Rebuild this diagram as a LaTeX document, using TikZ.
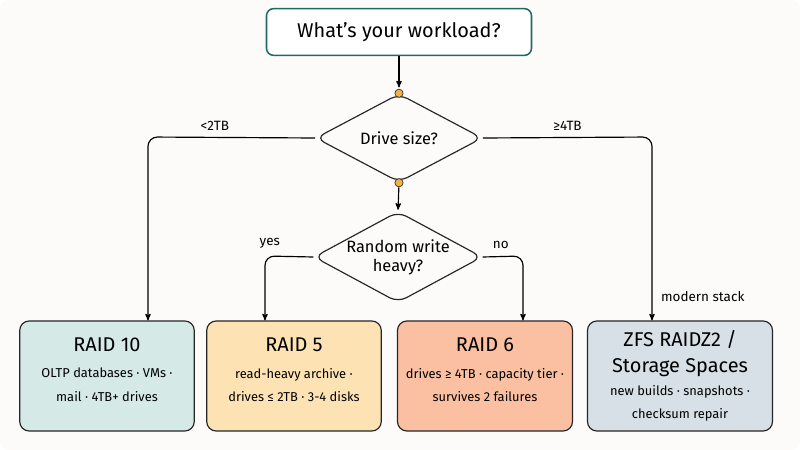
\documentclass[tikz,border=0pt]{standalone}
\usepackage{fontspec}
\setmainfont{Fira Sans}
\usetikzlibrary{arrows,shapes.geometric,positioning}
\definecolor{bg}{HTML}{FDFBFA}
\definecolor{teal}{HTML}{1F6B63}
\definecolor{dot}{HTML}{F2B441}
\definecolor{c10}{HTML}{D5EAE7}
\definecolor{c5}{HTML}{FDE3B4}
\definecolor{c6}{HTML}{FBC0A1}
\definecolor{cz}{HTML}{D6E0E6}
\tikzset{
  box/.style={draw=black!85,line width=1pt,rounded corners=8pt,minimum width=5.1cm,minimum height=3.3cm,align=center},
  decision/.style={draw=black!85,line width=1pt,diamond,aspect=1.85,minimum width=5cm,minimum height=2.65cm,inner sep=0pt,align=center,font=\fontsize{14}{16}\selectfont},
  lbl/.style={font=\fontsize{11.5}{13}\selectfont},
  dot/.style={circle,fill=dot,draw=black!80,line width=0.6pt,inner sep=0pt,minimum size=7pt}
}
\newcommand{\raidtitle}[2][13pt]{\parbox{5cm}{\centering\fontsize{17}{22}\selectfont #2}\\[#1]}
\newcommand{\raidbody}[3][11pt]{\parbox{#2}{\centering\fontsize{11}{20}\selectfont #3\rule[-#1]{0pt}{#1}}}
\begin{document}
\begin{tikzpicture}[x=0.03cm,y=-0.03cm,>=stealth',line width=1pt,rounded corners=8pt]
  \fill[bg] (0,0) rectangle (800,450);
  \useasboundingbox (0,0) rectangle (800,450);

  \node[draw=teal,line width=1.3pt,rounded corners=6pt,fill=white,minimum width=7.95cm,minimum height=1.4cm,font=\fontsize{17}{20}\selectfont] (work) at (399,32) {What’s your workload?};
  \node[decision] (size) at (399,138) {Drive size?};
  \node[decision,minimum height=2.55cm] (rand) at (398,257) {Random write\\heavy?};

  \node[box,fill=c10] (r10) at (107,376) {\raidtitle{RAID 10}\raidbody{4.8cm}{OLTP databases · VMs ·\\ mail · 4TB+ drives}};
  \node[box,fill=c5] (r5) at (294,376) {\raidtitle{RAID 5}\raidbody{4.8cm}{read-heavy archive ·\\ drives ≤ 2TB · 3-4 disks}};
  \node[box,fill=c6,minimum width=5.25cm] (r6) at (485,376) {\raidtitle{RAID 6}\raidbody{5cm}{drives ≥ 4TB · capacity tier ·\\ survives 2 failures}};
  \node[box,fill=cz,minimum width=5.55cm] (zfs) at (680,376) {\raidtitle[6pt]{ZFS RAIDZ2 /\\ Storage Spaces}\raidbody[0pt]{5.3cm}{new builds · snapshots ·\\ checksum repair}};

  \path[->,shorten >=5pt]
    (work) edge[rounded corners=0pt] (size.north)
    (size.south) edge[rounded corners=0pt,shorten <=4pt,shorten >=1pt] (rand.north);
  \draw[->] (size.west) -- (148,137) node[lbl,pos=0.6,above=2pt] {<2TB} -- (r10.north -| 148,0);
  \draw[->] (size.east) -- (652,137) node[lbl,pos=0.5,above=2pt] {≥4TB} -- (zfs.north -| 652,0) node[lbl,pos=0.87,right=4pt] {modern stack};
  \draw[->] (rand.west) -- (265,256) node[lbl,pos=0.9,above=3pt] {yes} -- (r5.north -| 265,0);
  \draw[->] (rand.east) -- (523,256) node[lbl,pos=0.45,above=3pt] {no} -- (r6.north -| 523,0);

  \node[dot] (d1) at (size.north) {};
  \node[dot] (d2) at (size.south) {};
\end{tikzpicture}
\end{document}
